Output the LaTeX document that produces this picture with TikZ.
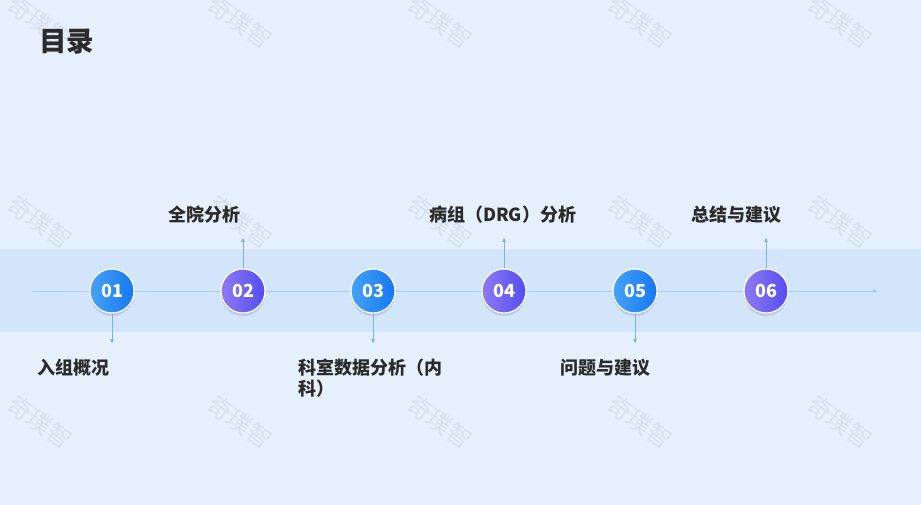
\documentclass[tikz,border=0pt]{standalone}
\usepackage{fontspec}
\setmainfont{Noto Sans CJK SC}
\usetikzlibrary{arrows.meta,shadows}

\definecolor{pagebg}{HTML}{E6F0FC}
\definecolor{bandbg}{HTML}{D3E5FB}
\definecolor{axisline}{HTML}{A8CCF3}
\definecolor{stemline}{HTML}{7DB1EC}
\definecolor{tipblue}{HTML}{3F8FEF}
\definecolor{darktext}{HTML}{2B2B2B}
\definecolor{markgray}{HTML}{C9D4DF}
\definecolor{bluelight}{HTML}{46A2F7}
\definecolor{bluedeep}{HTML}{1677F2}
\definecolor{violetlight}{HTML}{8E7BF2}
\definecolor{violetdeep}{HTML}{544CF2}

\begin{document}
\begin{tikzpicture}[
    x=1pt, y=-1pt,
    dot/.style={circle, draw=white, line width=1.2pt, minimum size=44pt, inner sep=0pt,
        text=white, font=\fontsize{18}{18}\selectfont\bfseries,
        drop shadow={shadow xshift=0pt, shadow yshift=-3pt, opacity=0.12, fill=blue!40!black}},
    bluedot/.style={dot, shading angle=135, left color=bluelight, right color=bluedeep},
    violetdot/.style={dot, shading angle=135, left color=violetlight, right color=violetdeep},
    topic/.style={text width=150pt, align=left, inner sep=0pt, text=darktext,
        font=\fontsize{18}{21}\selectfont\bfseries},
    stem/.style={stemline, line width=0.8pt, -{Latex[length=5pt,width=4pt]}},
    watermark/.style={text=markgray, opacity=0.5, rotate=-35, font=\fontsize{24}{24}\selectfont}
]
    % background and band
    \fill[pagebg] (0,0) rectangle (921,505);
    \fill[bandbg] (0,249) rectangle (921,332);
    \useasboundingbox (0,0) rectangle (921,505);

    % watermark
    \foreach \col in {0,...,4} {
        \foreach \row in {0,1,2} {
            \node[watermark] (wm-\col-\row) at (40+200*\col, 22+200*\row) {奇璞智};
        }
    }

    \node[anchor=west, inner sep=0pt, text=darktext, font=\fontsize{27.5}{27.5}\selectfont\bfseries] (title) at (39,42) {目录};

    % axis
    \coordinate (axisstart) at (32,291);
    \coordinate (axisend) at (878,291);
    \draw[axisline, line width=0.8pt, -{Latex[length=5pt,width=4pt,fill=tipblue]}] (axisstart) -- (axisend);

    \node[bluedot] (c1) at (112,291) {01};
    \node[violetdot] (c2) at (243,291) {02};
    \node[bluedot] (c3) at (373,291) {03};
    \node[violetdot] (c4) at (504,291) {04};
    \node[bluedot] (c5) at (635,291) {05};
    \node[violetdot] (c6) at (766,291) {06};

    \coordinate (s1) at (112,344);
    \coordinate (s2) at (243,237);
    \coordinate (s3) at (373,344);
    \coordinate (s4) at (504,237);
    \coordinate (s5) at (635,344);
    \coordinate (s6) at (766,237);

    \draw[stem] (c1) -- (s1);
    \draw[stem] (c2) -- (s2);
    \draw[stem] (c3) -- (s3);
    \draw[stem] (c4) -- (s4);
    \draw[stem] (c5) -- (s5);
    \draw[stem] (c6) -- (s6);

    \node[topic, anchor=north] (t1) at (112,359) {入组概况};
    \node[topic, anchor=north] (t2) at (243,206) {全院分析};
    \node[topic, anchor=north] (t3) at (373,359) {科室数据分析（内\\科）};
    \node[topic, anchor=north] (t4) at (504,206) {病组（DRG）分析};
    \node[topic, anchor=north] (t5) at (635,359) {问题与建议};
    \node[topic, anchor=north] (t6) at (766,206) {总结与建议};
\end{tikzpicture}
\end{document}
